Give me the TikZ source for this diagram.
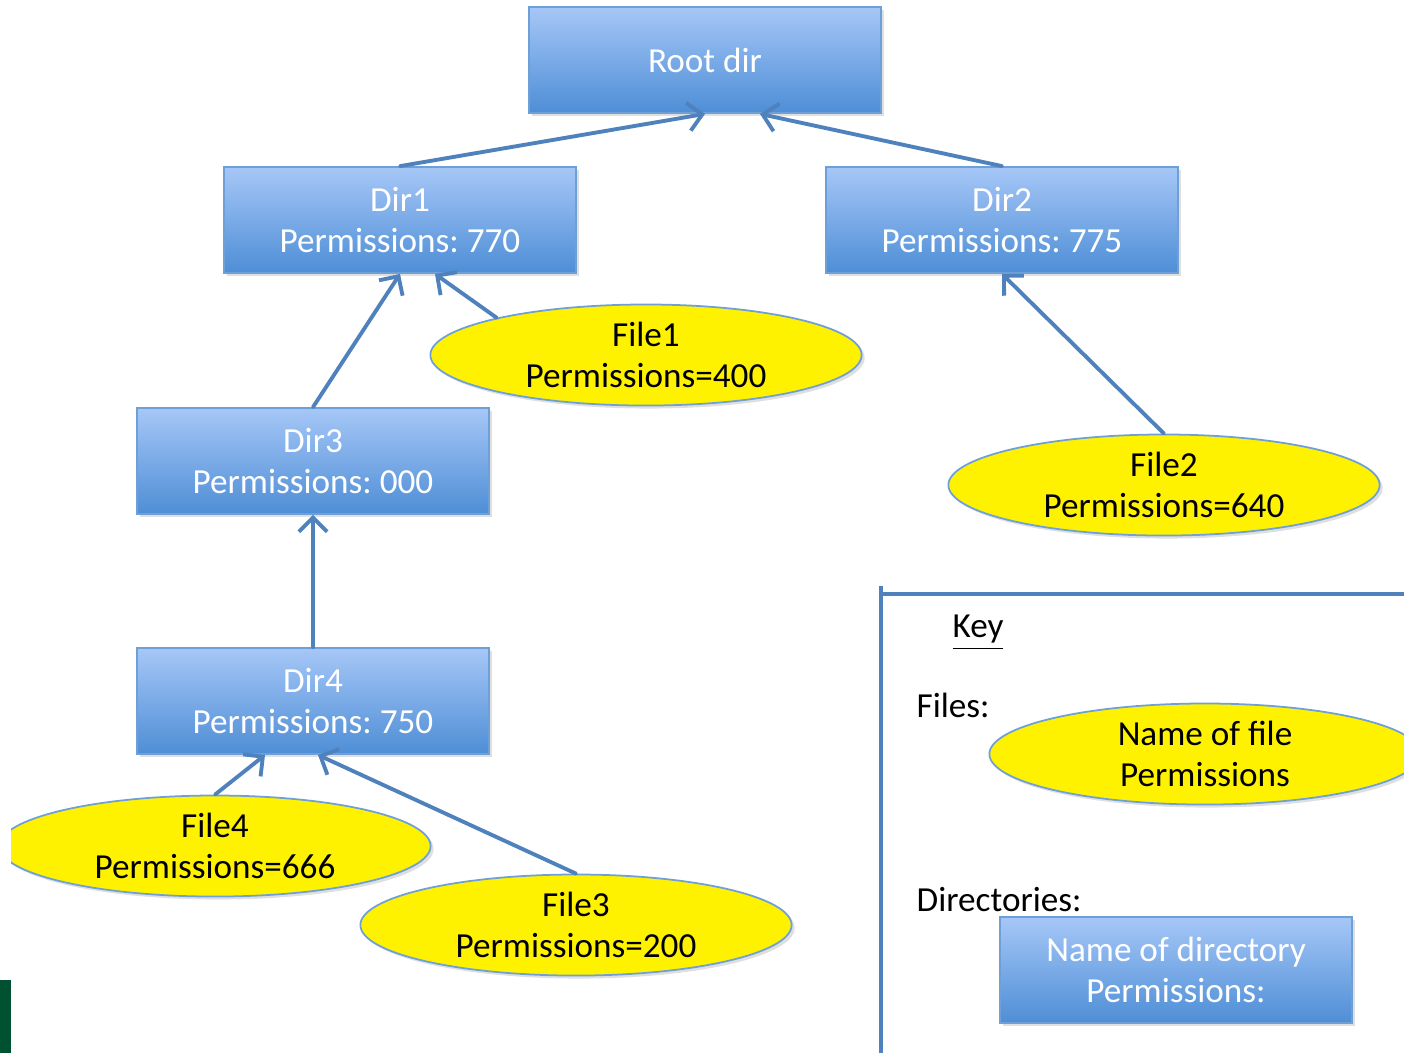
\documentclass[tikz,border=0pt]{standalone}
\usepackage{fontspec}
\setmainfont{Carlito}
\usepackage{tikz}
\usetikzlibrary{shapes.geometric, shadows, arrows.meta, calc}
\definecolor{linkblue}{RGB}{79,129,189}
\definecolor{boxtop}{RGB}{166,199,247}
\definecolor{boxbot}{RGB}{78,142,214}
\definecolor{boxline}{RGB}{110,160,215}
\definecolor{slidegreen}{RGB}{0,80,50}
\frenchspacing

\begin{document}
\begin{tikzpicture}[x=0.01cm, y=-0.01cm, font=\fontsize{10}{11.7}\selectfont,
    dirbox/.style={rectangle, draw=boxline, line width=0.5pt, top color=boxtop, bottom color=boxbot,
      minimum width=3.52cm, minimum height=1.06cm, text=white, align=center, inner sep=0pt, text depth=0pt,
      drop shadow={opacity=0.25, shadow xshift=0.03cm, shadow yshift=-0.03cm}},
    filebub/.style={ellipse, draw=boxline, line width=0.5pt, fill=yellow,
      minimum width=4.31cm, minimum height=1.01cm, align=center, inner sep=0pt, text depth=0pt,
      drop shadow={opacity=0.25, shadow xshift=0.03cm, shadow yshift=-0.03cm}},
    link/.style={color=linkblue, line width=1.1pt, line cap=round, -{Straight Barb[length=4pt, width=8pt]}},
    keyline/.style={color=linkblue, line width=1.1pt}]
  \useasboundingbox (0,0) rectangle (1404,1053);
  \fill[slidegreen] (0,980) rectangle (11,1053);
  \begin{scope}
    \clip (11,0) rectangle (1404,1053);
    \node[dirbox] (root) at (705,60) {Root dir};
    \node[dirbox] (dir1) at (400,220) {Dir1\\Permissions: 770};
    \node[dirbox] (dir2) at (1002,220) {Dir2\\Permissions: 775};
    \node[dirbox] (dir3) at (313,461) {Dir3\\Permissions: 000};
    \node[dirbox] (dir4) at (313,701) {Dir4\\Permissions: 750};
    \node[filebub] (file1) at (646,355) {File1\\Permissions=400};
    \node[filebub] (file2) at (1164,485) {File2\\Permissions=640};
    \node[filebub] (file3) at (576,925) {File3\\Permissions=200};
    \node[filebub] (file4) at (215,846) {File4\\Permissions=666};
    \path[link]
      (dir1.north) edge (root.south)
      (dir2.north) edge ($(root.south)+(55,0)$)
      (dir3.north) edge (dir1.south)
      (file1.166) edge ($(dir1.south)+(35,0)$)
      (file2.north) edge (dir2.south)
      (dir4.north) edge (dir3.south)
      (file4.north) edge ($(dir4.south)+(-48,0)$)
      (file3.north) edge ($(dir4.south)+(5,0)$);
    \draw[keyline] (881,586) -- (881,1053);
    \draw[keyline] (881,594) -- (1404,594);
    \node (keyhead) at (978,633) {\underline{Key}};
    \node[anchor=west, inner sep=0pt] (filestag) at (916,705) {Files:};
    \node[anchor=west, inner sep=0pt] (dirstag) at (916,900) {Directories:};
    \node[filebub] (keyfile) at (1205,754) {Name of file\\Permissions};
    \node[dirbox] (keydir) at (1176,970) {Name of directory\\Permissions:};
  \end{scope}
\end{tikzpicture}
\end{document}
